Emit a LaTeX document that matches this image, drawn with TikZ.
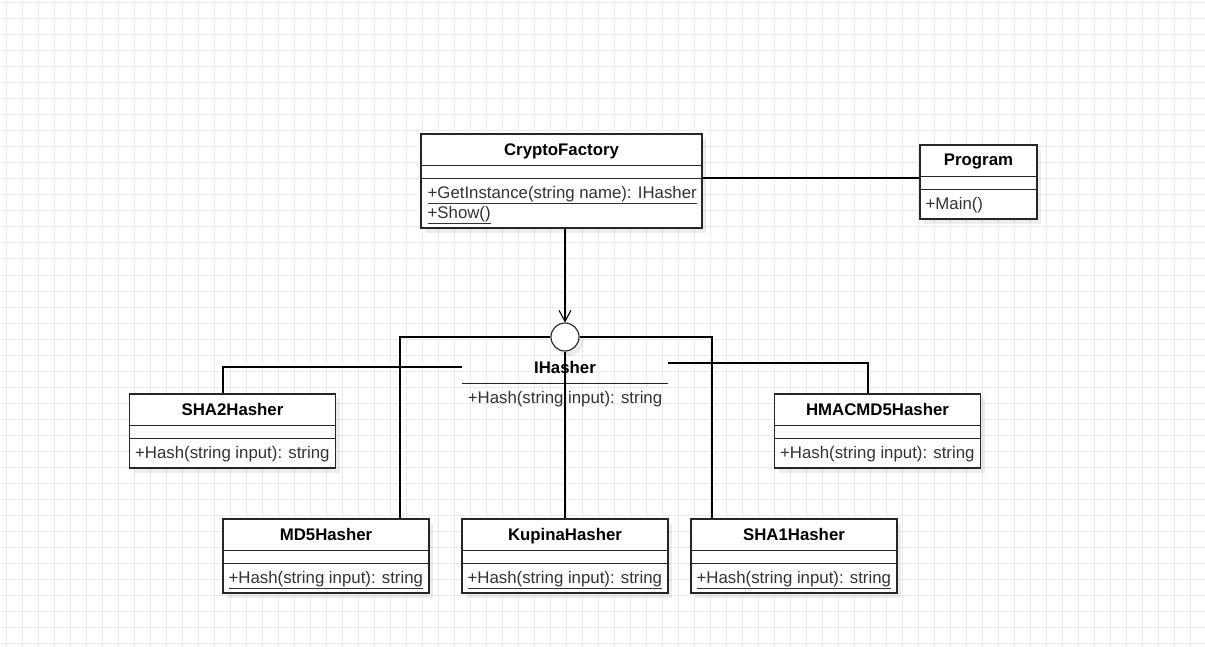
\documentclass[tikz,border=0pt]{standalone}
\usepackage{fontspec}
\setmainfont{Liberation Sans}
\usetikzlibrary{arrows.meta,positioning,shadows}
\definecolor{gridc}{HTML}{EBEBEB}
\definecolor{ink}{HTML}{333333}

\begin{document}
\begin{tikzpicture}[x=1pt,y=-1pt,
  >={Straight Barb[length=11pt,width=12pt]},
  font=\fontsize{16.8}{20}\selectfont,
  cls/.style={rectangle,draw=black!85,line width=1.1pt,fill=white,inner sep=0pt,
    drop shadow={shadow xshift=4pt,shadow yshift=-5pt,fill=black,opacity=.07}},
  ttl/.style={font=\fontsize{16.8}{20}\selectfont\bfseries,inner sep=0pt,text height=12pt,text depth=0pt},
  mth/.style={anchor=west,inner sep=0pt,text=ink,text height=12pt,text depth=0pt},
  sep/.style={draw=black!85,line width=1.1pt},
  conn/.style={black,line width=1.1pt},
  gridline/.style={gridc,line width=1pt}
]
  % paper with its grid
  \fill[white] (0,0) rectangle (1205,647);
  \useasboundingbox (0,0) rectangle (1205,647);
  \foreach \gx in {6,22,...,1205} \draw[gridline] (\gx,0) -- (\gx,647);
  \foreach \gy in {3,19,...,647} \draw[gridline] (0,\gy) -- (1205,\gy);

  % factory and client
  \node[cls,minimum width=281,minimum height=94] (cf) at (561.5,181) {};
  \node[ttl] (cf-t) at ([yshift=-16pt]cf.north) {CryptoFactory};
  \draw[sep] ([yshift=-32pt]cf.north west) -- ([yshift=-32pt]cf.north east);
  \draw[sep] ([yshift=-45pt]cf.north west) -- ([yshift=-45pt]cf.north east);
  \node[mth] (cf-m1) at ([xshift=7pt,yshift=-59pt]cf.north west) {\underline{+GetInstance(string name): IHasher}};
  \node[mth] (cf-m2) at ([xshift=7pt,yshift=-79pt]cf.north west) {\underline{+Show()}};

  \node[cls,minimum width=117,minimum height=74] (prog) at (978.5,182) {};
  \node[ttl] (prog-t) at ([yshift=-15pt]prog.north) {Program};
  \draw[sep] ([yshift=-32pt]prog.north west) -- ([yshift=-32pt]prog.north east);
  \draw[sep] ([yshift=-45pt]prog.north west) -- ([yshift=-45pt]prog.north east);
  \node[mth] (prog-m) at ([xshift=6pt,yshift=-59pt]prog.north west) {+Main()};

  % the interface as a lollipop
  \node[circle,draw=black!85,line width=1.1pt,fill=white,minimum size=28,inner sep=0pt,
    drop shadow={shadow xshift=4pt,shadow yshift=-5pt,fill=black,opacity=.07}] (ih) at (565,337) {};
  \node[ttl,minimum width=206,minimum height=32] (ihn) at (565,367) {IHasher};
  \draw[sep] (ihn.south west) -- (ihn.south east);
  \node[mth,anchor=center] (ihm) at (565,397) {+Hash(string input): string};

  % implementations
  \foreach \nm/\cx/\cy/\cname/\fmt in {sha2/232.5/431/SHA2Hasher/\mbox,
      hmac/877.5/431/HMACMD5Hasher/\mbox, md5/326/556/MD5Hasher/\underline,
      kup/565/556/KupinaHasher/\underline, sha1/794/556/SHA1Hasher/\underline}{
    \node[cls,minimum width=206,minimum height=74] (\nm) at (\cx,\cy) {};
    \node[ttl] (\nm-t) at ([yshift=-16pt]\nm.north) {\cname};
    \draw[sep] ([yshift=-32pt]\nm.north west) -- ([yshift=-32pt]\nm.north east);
    \draw[sep] ([yshift=-45pt]\nm.north west) -- ([yshift=-45pt]\nm.north east);
    \node[mth] (\nm-m) at ([xshift=6pt,yshift=-59pt]\nm.north west) {\fmt{+Hash(string input): string}};
  }

  % links
  \draw[conn] ([yshift=3pt]cf.east) -- ([yshift=4pt]prog.west);
  \draw[conn,->] (cf.south -| ih.north) -- (ih.north);
  \draw[conn] (ih.west) -| ([xshift=74pt]md5.north);
  \draw[conn] (ih.east) -| ([xshift=-82pt]sha1.north);
  \draw[conn] (ih.south) -- (kup.north);
  \draw[conn] ([xshift=-9.5pt]sha2.north) |- (ihn.west);
  \draw[conn] ([xshift=-9.5pt]hmac.north) |- ([yshift=4pt]ihn.east);
\end{tikzpicture}
\end{document}
